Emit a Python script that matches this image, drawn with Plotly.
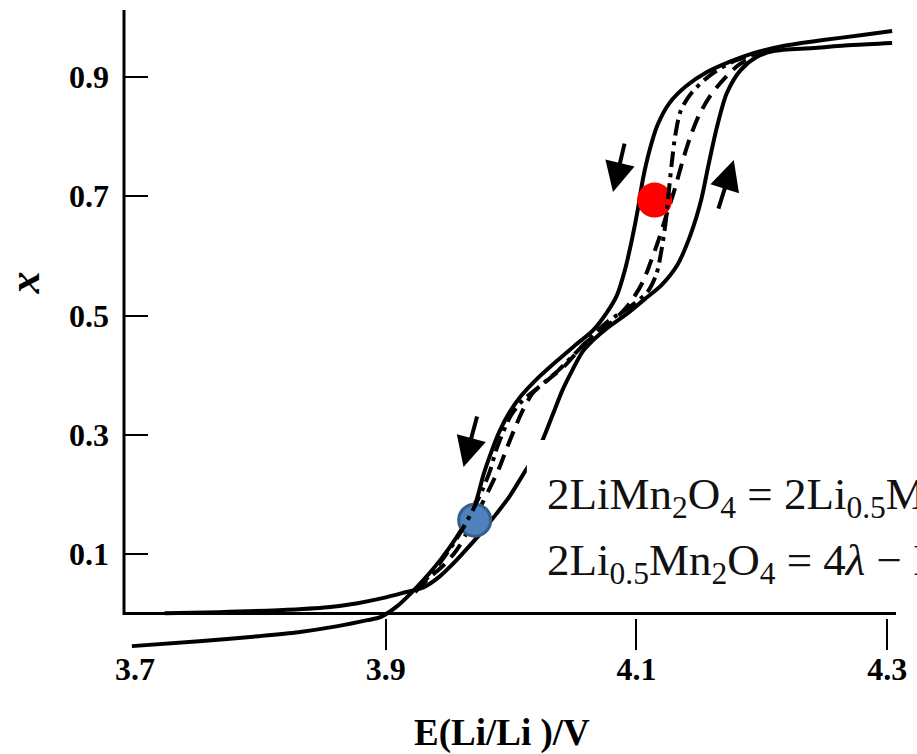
import plotly.graph_objects as go

# --- Hysteresis loop of Li content x against electrode potential E (V vs Li/Li+) ---
# Discharge branch (left solid line)
discharge_E = [3.6976, 3.7513, 3.7987, 3.8303, 3.8618, 3.8855, 3.8958, 3.9092, 3.9210, 3.9329,
               3.9447, 3.9566, 3.9660, 3.9724, 3.9779, 3.9842, 3.9905, 3.9984, 4.0079, 4.0197,
               4.0355, 4.0513, 4.0655, 4.0766, 4.0845, 4.0908, 4.0963, 4.1010, 4.1050, 4.1105,
               4.1168, 4.1263, 4.1397, 4.1563, 4.1737, 4.1934, 4.2171, 4.2487, 4.2802, 4.3039]
discharge_x = [-0.0541, -0.0458, -0.0374, -0.0307, -0.0206, -0.0106, -0.0055, 0.0129, 0.0364, 0.0632,
               0.0934, 0.1286, 0.1621, 0.1906, 0.2325, 0.2710, 0.3046, 0.3364, 0.3649, 0.3917,
               0.4219, 0.4504, 0.4755, 0.5057, 0.5342, 0.5761, 0.6264, 0.6767, 0.7270, 0.7773,
               0.8192, 0.8560, 0.8845, 0.9080, 0.9247, 0.9398, 0.9516, 0.9616, 0.9700, 0.9767]

# Charge branch (right solid line)
charge_E = [3.7237, 3.7671, 3.8145, 3.8539, 3.8776, 3.8974, 3.9131, 3.9305, 3.9424, 3.9542,
            3.9660, 3.9779, 3.9881, 3.9984, 4.0118, 4.0197, 4.0252, 4.0331, 4.0410, 4.0489,
            4.0568, 4.0655, 4.0766, 4.0931, 4.1066, 4.1200, 4.1326, 4.1436, 4.1516, 4.1571,
            4.1642, 4.1721, 4.1831, 4.1958, 4.2092, 4.2408, 4.2724, 4.3039]
charge_x = [0.0012, 0.0028, 0.0062, 0.0112, 0.0179, 0.0263, 0.0347, 0.0448, 0.0615, 0.0850,
            0.1118, 0.1403, 0.1671, 0.1956, 0.2409, 0.2660, 0.2912, 0.3331, 0.3750, 0.4085,
            0.4387, 0.4588, 0.4789, 0.5040, 0.5275, 0.5510, 0.5845, 0.6381, 0.6934, 0.7487,
            0.8158, 0.8728, 0.9113, 0.9331, 0.9432, 0.9482, 0.9532, 0.9566]

# Inner curve, dashed
dashed_E = [3.9234, 3.9345, 3.9463, 3.9566, 3.9668, 3.9763, 3.9842, 3.9905, 3.9960, 4.0024,
            4.0094, 4.0173, 4.0292, 4.0434, 4.0592, 4.0805, 4.0947, 4.1050, 4.1113, 4.1176,
            4.1239, 4.1303, 4.1366, 4.1429, 4.1500, 4.1587, 4.1697, 4.1824, 4.1997]
dashed_x = [0.0364, 0.0599, 0.0817, 0.1068, 0.1437, 0.1823, 0.2157, 0.2442, 0.2744, 0.3079,
            0.3414, 0.3700, 0.3917, 0.4169, 0.4538, 0.4890, 0.5208, 0.5560, 0.5895, 0.6264,
            0.6683, 0.7102, 0.7572, 0.7991, 0.8360, 0.8678, 0.8963, 0.9214, 0.9381]

# Inner curve, dash-dot
dashdot_E = [3.9250, 3.9384, 3.9503, 3.9605, 3.9692, 3.9771, 3.9834, 3.9881, 3.9937, 4.0000,
             4.0095, 4.0221, 4.0379, 4.0576, 4.0766, 4.0950, 4.1090, 4.1160, 4.1200, 4.1232,
             4.1255, 4.1280, 4.1310, 4.1355, 4.1445, 4.1579, 4.1760, 4.1974]
dashdot_x = [0.0420, 0.0722, 0.1056, 0.1391, 0.1727, 0.2074, 0.2409, 0.2744, 0.3046, 0.3331,
             0.3582, 0.3800, 0.4085, 0.4504, 0.4890, 0.5150, 0.5400, 0.5700, 0.6100, 0.6550,
             0.7018, 0.7521, 0.8024, 0.8443, 0.8745, 0.9013, 0.9247, 0.9398]

# Highlighted states
red_point = (4.1145, 0.6934)
blue_point = (3.971, 0.157)

# Direction arrows: (E_tail, x_tail, E_tip, x_tip)
arrows = [
    (4.0908, 0.7905, 4.0813, 0.7068),
    (4.1650, 0.6765, 4.1776, 0.7605),
    (3.9732, 0.3331, 3.9621, 0.2459),
]

x_tick_vals = [3.7, 3.9, 4.1, 4.3]
x_tick_text = ["3.7", "3.9", "4.1", "4.3"]
x_tick_marks = [3.9, 4.1, 4.3]
y_tick_vals = [0.1, 0.3, 0.5, 0.7, 0.9]
y_tick_text = ["0.1", "0.3", "0.5", "0.7", "0.9"]

E_RANGE = [3.6913, 4.307]
X_RANGE = [-0.0606, 1.012]

SERIF = "Liberation Serif, Times New Roman, serif"
LINE_W = 4

fig = go.Figure()

fig.add_trace(go.Scatter(x=discharge_E, y=discharge_x, mode="lines",
                         line=dict(color="black", width=LINE_W, shape="spline", smoothing=0.8),
                         showlegend=False, hoverinfo="skip"))
fig.add_trace(go.Scatter(x=charge_E, y=charge_x, mode="lines",
                         line=dict(color="black", width=LINE_W, shape="spline", smoothing=0.8),
                         showlegend=False, hoverinfo="skip"))
fig.add_trace(go.Scatter(x=dashed_E, y=dashed_x, mode="lines",
                         line=dict(color="black", width=LINE_W, dash="16px,9px",
                                   shape="spline", smoothing=0.8),
                         showlegend=False, hoverinfo="skip"))
fig.add_trace(go.Scatter(x=dashdot_E, y=dashdot_x, mode="lines", xaxis="x2",
                         line=dict(color="black", width=LINE_W, dash="16px,6px,4px,6px",
                                   shape="spline", smoothing=0.8),
                         showlegend=False, hoverinfo="skip"))

fig.add_trace(go.Scatter(x=[red_point[0]], y=[red_point[1]], mode="markers",
                         marker=dict(size=35, color="#ff0000", line=dict(width=0)),
                         showlegend=False, hoverinfo="skip"))
fig.add_trace(go.Scatter(x=[blue_point[0]], y=[blue_point[1]], mode="markers",
                         marker=dict(size=32, color="#4f81bd", line=dict(width=3, color="#385d8a")),
                         showlegend=False, hoverinfo="skip"))

annotations = []
for e0, x0, e1, x1 in arrows:
    annotations.append(dict(x=e1, y=x1, ax=e0, ay=x0, xref="x", yref="y", axref="x", ayref="y",
                            text="", showarrow=True, arrowhead=2, arrowsize=1.5,
                            arrowwidth=4, arrowcolor="black", standoff=0))

# Axis titles
annotations.append(dict(text="<b><i>x</i></b>", xref="paper", yref="paper", x=-0.129, y=0.5734,
                        showarrow=False, textangle=-90, xanchor="center", yanchor="middle",
                        font=dict(family=SERIF, size=44, color="black")))
annotations.append(dict(text="<b>E(Li/Li )/V</b>", xref="paper", yref="paper", x=0.4897, y=-0.1297,
                        showarrow=False, xanchor="center", yanchor="middle",
                        font=dict(family=SERIF, size=37, color="black")))

# Reaction equations
eq1 = "2LiMn<sub>2</sub>O<sub>4</sub> = 2Li<sub>0.5</sub>Mn<sub>2</sub>O<sub>4</sub> + Li<sup>+</sup> + e<sup>−</sup>"
eq2 = "2Li<sub>0.5</sub>Mn<sub>2</sub>O<sub>4</sub> = 4<i>λ</i> − MnO<sub>2</sub> + Li<sup>+</sup> + e<sup>−</sup>"
annotations.append(dict(text=eq1, xref="paper", yref="paper", x=0.5462, y=0.2450,
                        showarrow=False, xanchor="left", yanchor="middle", borderpad=0,
                        font=dict(family=SERIF, size=45, color="#111111")))
annotations.append(dict(text=eq2, xref="paper", yref="paper", x=0.5462, y=0.1420,
                        showarrow=False, xanchor="left", yanchor="middle", borderpad=0,
                        font=dict(family=SERIF, size=45, color="#111111")))

shapes = [
    # vertical axis line, from the E axis up to the top
    dict(type="line", xref="paper", yref="y", x0=0, x1=0, y0=-0.002, y1=X_RANGE[1],
         line=dict(color="black", width=3)),
    # white panel behind the equations
    dict(type="rect", xref="paper", yref="paper", x0=0.5218, x1=1.05, y0=0.066, y1=0.3281,
         fillcolor="white", line=dict(width=0), layer="above"),
]

tick_font = dict(family=SERIF, size=32, color="black", weight="bold")

fig.update_layout(
    width=917, height=754,
    margin=dict(l=124, r=13, t=10, b=104),
    paper_bgcolor="white", plot_bgcolor="white",
    xaxis=dict(range=E_RANGE, tickmode="array", tickvals=x_tick_vals, ticktext=x_tick_text,
               ticks="", showline=False, showgrid=False, zeroline=False,
               tickfont=tick_font, ticklabelstandoff=-3),
    xaxis2=dict(range=E_RANGE, overlaying="x", anchor="y", side="bottom",
                tickmode="array", tickvals=x_tick_marks, ticks="inside", ticklen=31,
                tickwidth=2, tickcolor="black", showticklabels=False,
                showline=False, showgrid=False, zeroline=False),
    yaxis=dict(range=X_RANGE, tickmode="array", tickvals=y_tick_vals, ticktext=y_tick_text,
               ticks="inside", ticklen=24, tickwidth=2, tickcolor="black",
               showline=False, showgrid=False, zeroline=True, zerolinecolor="black",
               zerolinewidth=2.5, tickfont=tick_font, ticklabelstandoff=14),
    annotations=annotations,
    shapes=shapes,
)

fig.write_html("out.html")
